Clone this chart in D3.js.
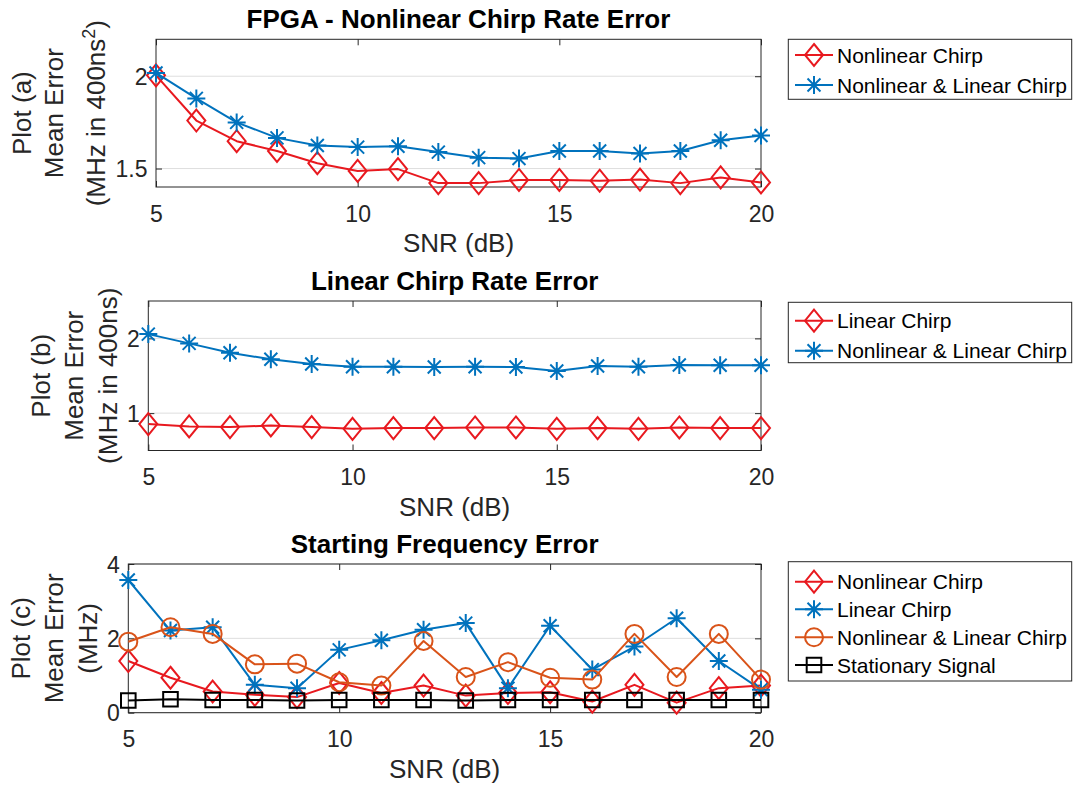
<!DOCTYPE html>
<html>
<head>
<meta charset="utf-8">
<script src="https://cdn.jsdelivr.net/npm/d3@7"></script>
<style>
  body { margin: 0; background: #fff; }
  svg { display: block; }
</style>
</head>
<body>
<svg id="chart" width="1078" height="788"></svg>
<script>
// ---- data -------------------------------------------------------------
const snr = [5, 6, 7, 8, 9, 10, 11, 12, 13, 14, 15, 16, 17, 18, 19, 20];
const xTicks = [5, 10, 15, 20];

// (a) nonlinear chirp rate error
const aNonlinear = [2.005, 1.76, 1.648, 1.595, 1.529, 1.487, 1.497, 1.421, 1.421, 1.438, 1.438, 1.434, 1.44, 1.421, 1.452, 1.425];
const aNonlinearLinear = [2.018, 1.88, 1.75, 1.666, 1.625, 1.616, 1.621, 1.589, 1.559, 1.554, 1.595, 1.595, 1.582, 1.595, 1.653, 1.679];
const aTicks = [1.5, 2];

// (b) linear chirp rate error
const bLinear = [0.853, 0.822, 0.813, 0.835, 0.813, 0.79, 0.80, 0.80, 0.808, 0.808, 0.79, 0.80, 0.79, 0.808, 0.80, 0.80];
const bNonlinearLinear = [2.057, 1.933, 1.808, 1.72, 1.657, 1.621, 1.621, 1.617, 1.621, 1.617, 1.564, 1.631, 1.621, 1.644, 1.64, 1.64];
const bTicks = [1, 2];

// (c) starting frequency error
const cNonlinear = [1.39, 0.94, 0.57, 0.48, 0.42, 0.80, 0.53, 0.73, 0.46, 0.53, 0.55, 0.30, 0.75, 0.27, 0.66, 0.73];
const cLinear = [3.57, 2.21, 2.30, 0.75, 0.66, 1.69, 1.95, 2.23, 2.41, 0.66, 2.34, 1.16, 1.78, 2.54, 1.39, 0.62];
const cNonlinearLinear = [1.91, 2.30, 2.12, 1.30, 1.32, 0.82, 0.73, 1.93, 0.96, 1.36, 0.94, 0.89, 2.12, 0.96, 2.12, 0.89];
const cStationary = [0.33, 0.36, 0.34, 0.34, 0.33, 0.34, 0.34, 0.34, 0.33, 0.34, 0.34, 0.34, 0.34, 0.34, 0.34, 0.34];
const cTicks = [0, 2, 4];

// ---- styling ----------------------------------------------------------
const FONT = "'Liberation Sans', Arial, Helvetica, sans-serif";
const AXIS_COLOR = "#262626";
const GRID_COLOR = "#dedede";
const RED = "#e8191f";
const BLUE = "#0072BD";
const ORANGE = "#D95319";
const BLACK = "#000000";

const panels = [
  {
    title: "FPGA - Nonlinear Chirp Rate Error",
    box: { left: 156, right: 761, top: 39.3, bottom: 187 },
    yDomain: [1.4, 2.2], yTicks: aTicks, tickFmt: d => d3.format("")(d),
    ylabel: [
      { x: 31, parts: [["Plot (a)"]] },
      { x: 63, parts: [["Mean Error"]] },
      { x: 105, parts: [["(MHz in 400ns"], ["2", "sup"], [")"]] }
    ],
    series: [
      { name: "Nonlinear Chirp", values: aNonlinear, color: RED, marker: "diamond" },
      { name: "Nonlinear & Linear Chirp", values: aNonlinearLinear, color: BLUE, marker: "star" }
    ],
    legend: { left: 788.3, right: 1071.7, top: 39.3, bottom: 99.3, rows: [55, 85] }
  },
  {
    title: "Linear Chirp Rate Error",
    box: { left: 148.3, right: 761, top: 301, bottom: 450.5 },
    yDomain: [0.5, 2.5], yTicks: bTicks, tickFmt: d => d3.format("")(d),
    ylabel: [
      { x: 50, parts: [["Plot (b)"]] },
      { x: 83, parts: [["Mean Error"]] },
      { x: 117, parts: [["(MHz in 400ns)"]] }
    ],
    series: [
      { name: "Linear Chirp", values: bLinear, color: RED, marker: "diamond" },
      { name: "Nonlinear & Linear Chirp", values: bNonlinearLinear, color: BLUE, marker: "star" }
    ],
    legend: { left: 788.3, right: 1071.7, top: 302.3, bottom: 362.7, rows: [320.7, 350.7] }
  },
  {
    title: "Starting Frequency Error",
    box: { left: 128.3, right: 761, top: 564, bottom: 712.7 },
    yDomain: [0, 4], yTicks: cTicks, tickFmt: d => d3.format("")(d),
    ylabel: [
      { x: 30, parts: [["Plot (c)"]] },
      { x: 63, parts: [["Mean Error"]] },
      { x: 97, parts: [["(MHz)"]] }
    ],
    series: [
      { name: "Nonlinear Chirp", values: cNonlinear, color: RED, marker: "diamond" },
      { name: "Linear Chirp", values: cLinear, color: BLUE, marker: "star" },
      { name: "Nonlinear & Linear Chirp", values: cNonlinearLinear, color: ORANGE, marker: "circle" },
      { name: "Stationary Signal", values: cStationary, color: BLACK, marker: "square" }
    ],
    legend: { left: 788.3, right: 1071.7, top: 561.7, bottom: 681, rows: [581.7, 609.3, 637.3, 665] }
  }
];

const svg = d3.select("#chart");

// Marker shapes, centred on (0,0)
function markerPath(type) {
  if (type === "diamond") {
    const w = 9, h = 11;
    return `M0,${-h}L${w},0L0,${h}L${-w},0Z`;
  }
  if (type === "star") {
    const r = 9, d = r * 0.72;
    return `M${-r},0L${r},0M0,${-r}L0,${r}M${-d},${-d}L${d},${d}M${-d},${d}L${d},${-d}`;
  }
  if (type === "square") {
    const s = 7.3;
    return `M${-s},${-s}L${s},${-s}L${s},${s}L${-s},${s}Z`;
  }
  return null;
}

function drawMarker(g, type, x, y, color) {
  if (type === "circle") {
    g.append("circle").attr("cx", x).attr("cy", y).attr("r", 9)
      .attr("fill", "none").attr("stroke", color).attr("stroke-width", 2);
  } else {
    g.append("path").attr("d", markerPath(type))
      .attr("transform", `translate(${x},${y})`)
      .attr("fill", "none").attr("stroke", color).attr("stroke-width", 2)
      .attr("stroke-linejoin", "miter");
  }
}

panels.forEach(p => {
  const b = p.box;
  const x = d3.scaleLinear().domain([5, 20]).range([b.left, b.right]);
  const y = d3.scaleLinear().domain(p.yDomain).range([b.bottom, b.top]);
  const g = svg.append("g");

  // horizontal grid
  g.append("g").selectAll("line").data(p.yTicks).join("line")
    .attr("x1", b.left).attr("x2", b.right)
    .attr("y1", d => y(d)).attr("y2", d => y(d))
    .attr("stroke", GRID_COLOR).attr("stroke-width", 1);

  // bottom axis (ticks inward) and matching top ticks
  const xAxis = d3.axisBottom(x).tickValues(xTicks).tickSizeInner(-6).tickSizeOuter(0).tickPadding(0);
  const xg = g.append("g").attr("transform", `translate(0,${b.bottom})`).call(xAxis);
  xg.select(".domain").remove();
  xg.selectAll(".tick line").attr("stroke", AXIS_COLOR);
  xg.selectAll(".tick text").attr("fill", AXIS_COLOR).attr("font-family", FONT)
    .attr("font-size", 23).attr("dy", null).attr("y", 34.5);

  const xTop = d3.axisTop(x).tickValues(xTicks).tickSizeInner(-6).tickSizeOuter(0).tickFormat("");
  const xtg = g.append("g").attr("transform", `translate(0,${b.top})`).call(xTop);
  xtg.select(".domain").remove();
  xtg.selectAll(".tick line").attr("stroke", AXIS_COLOR);

  // left axis and matching right ticks
  const yAxis = d3.axisLeft(y).tickValues(p.yTicks).tickFormat(p.tickFmt).tickSizeInner(-6).tickSizeOuter(0).tickPadding(0);
  const yg = g.append("g").attr("transform", `translate(${b.left},0)`).call(yAxis);
  yg.select(".domain").remove();
  yg.selectAll(".tick line").attr("stroke", AXIS_COLOR);
  yg.selectAll(".tick text").attr("fill", AXIS_COLOR).attr("font-family", FONT)
    .attr("font-size", 23).attr("x", -8.5).attr("dy", "0.36em");

  const yRight = d3.axisRight(y).tickValues(p.yTicks).tickSizeInner(-6).tickSizeOuter(0).tickFormat("");
  const yrg = g.append("g").attr("transform", `translate(${b.right},0)`).call(yRight);
  yrg.select(".domain").remove();
  yrg.selectAll(".tick line").attr("stroke", AXIS_COLOR);

  // axes box
  g.append("rect").attr("x", b.left).attr("y", b.top)
    .attr("width", b.right - b.left).attr("height", b.bottom - b.top)
    .attr("fill", "none").attr("stroke", AXIS_COLOR).attr("stroke-width", 1);

  // title
  g.append("text").attr("x", (b.left + b.right) / 2).attr("y", b.top - 11)
    .attr("text-anchor", "middle").attr("font-family", FONT).attr("font-size", 26)
    .attr("font-weight", "bold").attr("fill", "#000").text(p.title);

  // x label
  g.append("text").attr("x", (b.left + b.right) / 2).attr("y", b.bottom + 65)
    .attr("text-anchor", "middle").attr("font-family", FONT).attr("font-size", 26)
    .attr("fill", AXIS_COLOR).text("SNR (dB)");

  // multi-line y label, rotated
  const cy = (b.top + b.bottom) / 2;
  p.ylabel.forEach(line => {
    const t = g.append("text")
      .attr("transform", `translate(${line.x},${cy}) rotate(-90)`)
      .attr("text-anchor", "middle").attr("font-family", FONT).attr("font-size", 26)
      .attr("fill", AXIS_COLOR);
    let shifted = false;
    line.parts.forEach(part => {
      const ts = t.append("tspan").text(part[0]);
      if (part[1] === "sup") {
        ts.attr("font-size", 18).attr("dy", -10);
        shifted = true;
      } else if (shifted) {
        ts.attr("dy", 10);
        shifted = false;
      }
    });
  });

  // series lines then markers, in plotting order
  const line = d3.line().x((d, i) => x(snr[i])).y(d => y(d));
  p.series.forEach(s => {
    const sg = g.append("g");
    sg.append("path").datum(s.values).attr("d", line)
      .attr("fill", "none").attr("stroke", s.color).attr("stroke-width", 2)
      .attr("stroke-linejoin", "round");
    s.values.forEach((v, i) => drawMarker(sg, s.marker, x(snr[i]), y(v), s.color));
  });

  // legend
  const L = p.legend;
  const lg = svg.append("g");
  lg.append("rect").attr("x", L.left).attr("y", L.top)
    .attr("width", L.right - L.left).attr("height", L.bottom - L.top)
    .attr("fill", "#fff").attr("stroke", AXIS_COLOR).attr("stroke-width", 1);
  p.series.forEach((s, i) => {
    const ry = L.rows[i];
    lg.append("line").attr("x1", 795).attr("x2", 833).attr("y1", ry).attr("y2", ry)
      .attr("stroke", s.color).attr("stroke-width", 2);
    drawMarker(lg, s.marker, 814, ry, s.color);
    lg.append("text").attr("x", 837).attr("y", ry + 7.5)
      .attr("font-family", FONT).attr("font-size", 21).attr("fill", "#000").text(s.name);
  });
});
</script>
</body>
</html>
